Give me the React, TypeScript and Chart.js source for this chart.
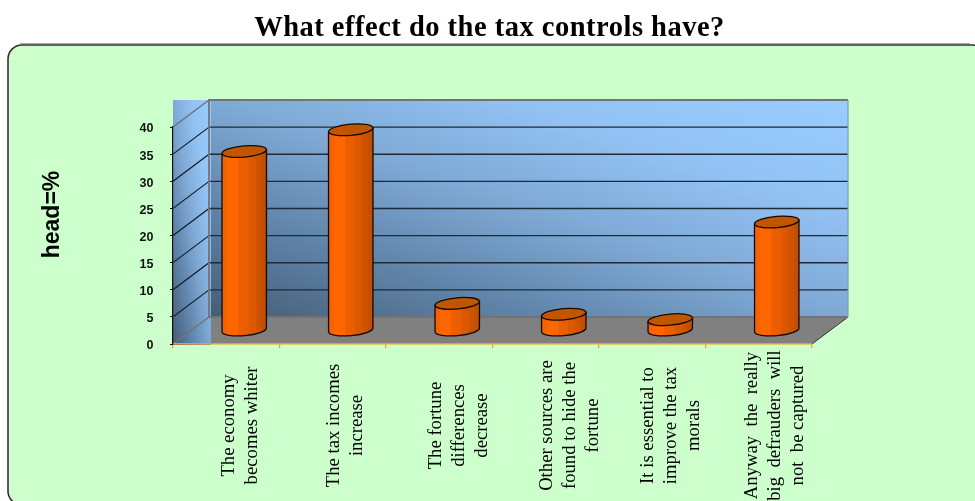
import React, { useEffect, useRef } from "react";
import { Chart, registerables } from "chart.js";

Chart.register(...registerables);

const titleText = "What effect do the tax controls have?";
const axisTitle = "head=%";
const categories: string[][] = [
  ["The economy", "becomes whiter"],
  ["The tax incomes", "increase"],
  ["The fortune", "differences", "decrease"],
  ["Other sources are", "found to hide the", "fortune"],
  ["It is essential to", "improve the tax", "morals"],
  ["Anyway  the  really", "big  defrauders  will", "not  be captured"],
];
const shares = [33, 37, 5, 3, 2, 20];
const yMax = 40;
const yStep = 5;

const DX = 36;
const DY = 27;
const labelNudge = [14.5, 12.5, 19.5, 24.5, 18.5, 16.5];

function boxGradient(ctx: CanvasRenderingContext2D, x: number, y: number, w: number, h: number) {
  const len = Math.hypot(w, h);
  const nx = h / len;
  const ny = -w / len;
  const half = (w * h) / len;
  const cx = x + w / 2;
  const cy = y + h / 2;
  const g = ctx.createLinearGradient(cx - nx * half, cy - ny * half, cx + nx * half, cy + ny * half);
  g.addColorStop(0, "#445D75");
  g.addColorStop(0.25, "#5F83A8");
  g.addColorStop(0.5, "#7FA9D5");
  g.addColorStop(0.75, "#93C3F5");
  g.addColorStop(1, "#99CCFF");
  return g;
}

function drawScene(chart: any) {
  const ctx: CanvasRenderingContext2D = chart.ctx;
  const { x: xs, y: ys } = chart.scales;
  const L = xs.left, R = xs.right, B = ys.bottom, T = ys.top;
  ctx.save();
  ctx.fillStyle = "#ffffff";
  ctx.fillRect(0, 0, chart.width, chart.height);

  // panel
  ctx.beginPath();
  ctx.roundRect(8, 45, 978, 460, 14);
  ctx.fillStyle = "#CCFFCC";
  ctx.fill();
  ctx.strokeStyle = "#333333";
  ctx.lineWidth = 1.6;
  ctx.stroke();
  ctx.beginPath();
  ctx.moveTo(20, 43.5);
  ctx.lineTo(970, 43.5);
  ctx.strokeStyle = "#a8a8a8";
  ctx.lineWidth = 1;
  ctx.stroke();

  // back wall
  const bx0 = L + DX, bx1 = R + DX, by0 = T - DY, by1 = B - DY;
  ctx.fillStyle = boxGradient(ctx, bx0, by0, bx1 - bx0, by1 - by0);
  ctx.fillRect(bx0, by0, bx1 - bx0, by1 - by0);

  // floor
  ctx.fillStyle = "#808080";
  ctx.beginPath();
  ctx.moveTo(bx0, by1);
  ctx.lineTo(bx1, by1);
  ctx.lineTo(R, B);
  ctx.lineTo(L, B);
  ctx.closePath();
  ctx.fill();
  ctx.strokeStyle = "#333333";
  ctx.lineWidth = 1;
  ctx.beginPath();
  ctx.moveTo(bx1, by1);
  ctx.lineTo(R, B);
  ctx.stroke();

  // side wall
  const sw = DX + 2, sh = B - by0 + 1;
  ctx.fillStyle = boxGradient(ctx, L, by0, sw, sh);
  ctx.fillRect(L, by0, sw, sh);

  // grid
  const values = ys.ticks.map((t: any) => t.value);
  for (const v of values) {
    const y = ys.getPixelForValue(v);
    const edge = v === 0 || v === yMax;
    ctx.lineWidth = edge ? 1.5 : 1.2;
    ctx.strokeStyle = edge ? "#6f7478" : "#101820";
    ctx.beginPath();
    ctx.moveTo(L, y);
    ctx.lineTo(bx0, y - DY);
    ctx.stroke();
    if (!edge) {
      ctx.strokeStyle = "#1d2a38";
      ctx.lineWidth = 1.4;
      ctx.beginPath();
      ctx.moveTo(bx0, y - DY);
      ctx.lineTo(bx1, y - DY);
      ctx.stroke();
    }
  }
  // wall frame
  ctx.strokeStyle = "#6f7478";
  ctx.lineWidth = 1.8;
  ctx.beginPath();
  ctx.moveTo(bx0, by1);
  ctx.lineTo(bx1, by1);
  ctx.stroke();
  ctx.beginPath();
  ctx.moveTo(bx0, by1);
  ctx.lineTo(bx0, by0);
  ctx.lineTo(bx1, by0);
  ctx.stroke();
  ctx.strokeStyle = "#8a9aa8";
  ctx.lineWidth = 1.2;
  ctx.beginPath();
  ctx.moveTo(bx1, by0);
  ctx.lineTo(bx1, by1);
  ctx.stroke();
  ctx.restore();
}

function drawCylinder(ctx: CanvasRenderingContext2D, bar: any) {
  const cx = bar.x + DX / 2;
  const rx = bar.width / 2;
  const ry = 5.6;
  const rot = (-5.2 * Math.PI) / 180;
  const topY = bar.y - DY / 2;
  const botY = bar.base - DY / 2;
  const tilt = Math.sin(-rot) * rx;
  const grad = ctx.createLinearGradient(cx - rx, 0, cx + rx, 0);
  const stops: [number, string][] = [
    [0, "#F46200"], [0.12, "#F66300"], [0.121, "#FF6600"], [0.36, "#FF6600"],
    [0.361, "#EE5F00"], [0.6, "#E85D00"], [0.601, "#DE5900"], [0.76, "#DA5700"],
    [0.761, "#D05400"], [0.88, "#CC5200"], [0.881, "#C45000"], [1, "#C04E00"],
  ];
  stops.forEach(([o, c]) => grad.addColorStop(o, c));

  ctx.save();
  ctx.beginPath();
  ctx.ellipse(cx, botY, rx, ry, rot, Math.PI, 0, true);
  ctx.lineTo(cx + rx, topY - tilt);
  ctx.lineTo(cx - rx, topY + tilt);
  ctx.closePath();
  ctx.fillStyle = grad;
  ctx.fill();
  ctx.strokeStyle = "#140800";
  ctx.lineWidth = 1.3;
  ctx.stroke();

  ctx.beginPath();
  ctx.ellipse(cx, topY, rx, ry, rot, 0, Math.PI * 2);
  ctx.fillStyle = "#C05600";
  ctx.fill();
  ctx.stroke();
  ctx.restore();
}

const scenePlugin = {
  id: "scene",
  beforeDraw(chart: any) {
    drawScene(chart);
  },
  beforeDatasetDraw(chart: any, args: any) {
    args.meta.data.forEach((bar: any) => drawCylinder(chart.ctx, bar));
    return false;
  },
  afterDraw(chart: any) {
    const ctx: CanvasRenderingContext2D = chart.ctx;
    const { x: xs, y: ys } = chart.scales;
    ctx.save();
    ctx.fillStyle = "#000000";
    ctx.textAlign = "center";
    ctx.textBaseline = "middle";

    ctx.save();
    ctx.font = "bold 28.5px 'Liberation Serif'";
    (ctx as any).letterSpacing = "0.5px";
    ctx.fillText(titleText, 489.5, 29);
    ctx.restore();

    ctx.font = "18.7px 'Liberation Serif'";
    categories.forEach((lines, i) => {
      const cx = xs.getPixelForValue(i) + labelNudge[i];
      lines.forEach((line, j) => {
        ctx.save();
        ctx.translate(cx + (j - (lines.length - 1) / 2) * 23, 425.5);
        ctx.rotate(-Math.PI / 2);
        ctx.fillText(line, 0, 0);
        ctx.restore();
      });
    });

    ctx.save();
    ctx.textAlign = "right";
    ctx.fillStyle = "#111111";
    ctx.font = "bold 12.5px 'Liberation Sans'";
    ys.ticks.forEach((t: any) => {
      ctx.fillText(String(t.label), 153.5, ys.getPixelForValue(t.value) + 2);
    });
    ctx.restore();

    ctx.save();
    ctx.translate(53, 214.5);
    ctx.rotate(-Math.PI / 2);
    ctx.font = "bold 23px 'Liberation Sans'";
    ctx.fillText(axisTitle, 0, 0);
    ctx.restore();
    ctx.restore();
  },
};

export default function App() {
  const ref = useRef<HTMLCanvasElement | null>(null);
  useEffect(() => {
    if (!ref.current) return;
    const chart = new Chart(ref.current, {
      type: "bar",
      data: {
        labels: categories.map((c) => c.join(" ")),
        datasets: [
          {
            label: axisTitle,
            data: shares,
            backgroundColor: "#FF6600",
            borderColor: "#140800",
            barPercentage: 0.418,
            categoryPercentage: 1,
          },
        ],
      },
      options: {
        animation: false,
        responsive: false,
        devicePixelRatio: 1,
        layout: { padding: { left: 0, right: 163, top: 127, bottom: 0 } },
        plugins: {
          legend: { display: false },
          tooltip: { enabled: false },
          title: { display: false },
        },
        scales: {
          x: {
            afterFit: (s: any) => {
              s.height = 157;
            },
            ticks: { display: false },
            grid: {
              drawOnChartArea: false,
              drawTicks: true,
              tickLength: 4,
              color: "#FF9900",
              lineWidth: 1.2,
            },
            border: { display: true, color: "#FF9900", width: 1.6 },
          },
          y: {
            min: 0,
            max: yMax,
            afterFit: (s: any) => {
              s.width = 173;
            },
            ticks: { stepSize: yStep, display: false },
            grid: {
              drawOnChartArea: false,
              drawTicks: true,
              tickLength: 3,
              color: "#111111",
              lineWidth: 1,
            },
            border: { display: true, color: "#111111", width: 1.2 },
          },
        },
      },
      plugins: [scenePlugin],
    } as any);
    return () => chart.destroy();
  }, []);
  return (
    <div style={{ position: "fixed", left: 0, top: 0, width: 975, height: 501 }}>
      <canvas ref={ref} width={975} height={501} style={{ display: "block", width: 975, height: 501 }} />
    </div>
  );
}
